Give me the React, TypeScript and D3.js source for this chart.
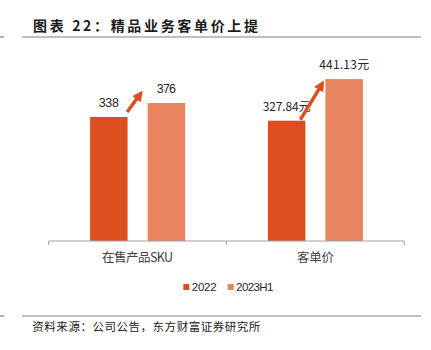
import React from "react";
import * as d3 from "d3";

const categories = ["在售产品SKU", "客单价"];
const series = ["2022", "2023H1"];
const values2022 = [338, 327.84];
const values2023H1 = [376, 441.13];
const valueLabels2022 = ["338", "327.84元"];
const valueLabels2023H1 = ["376", "441.13元"];
const colors = ["#DC4E1F", "#E8845F"];

const W = 431;
const H = 350;

export default function App() {
  const x = d3.scaleBand<string>().domain(categories).range([48.7, 404.3]).padding(0);
  const bw = x.bandwidth();
  const xs = d3
    .scaleBand<string>()
    .domain(series)
    .range([bw / 2 - 47.5, bw / 2 + 47.5])
    .paddingInner(0.348)
    .paddingOuter(0);
  const y = d3.scaleLinear().domain([0, 500]).range([241, 57.5]);
  const base = y(0);

  const data = categories.map((c, i) => ({
    cat: c,
    vals: [values2022[i], values2023H1[i]],
    labels: [valueLabels2022[i], valueLabels2023H1[i]],
  }));

  const labelWidths = [
    [20, 19],
    [48, 50],
  ];

  const arrowColor = "#DC4E1F";
  const font = "'Liberation Sans', Arial, sans-serif";
  const cjk = "'Noto Sans CJK SC', 'Noto Sans', sans-serif";

  return (
    <svg
      width={W}
      height={H}
      style={{ position: "absolute", left: 0, top: 0, background: "#fff" }}
    >
      <defs>
        <marker
          id="ah"
          viewBox="0 0 10 10"
          refX="5"
          refY="5"
          markerWidth="3"
          markerHeight="3"
          orient="auto"
        >
          <path d="M0,0 L10,5 L0,10 z" fill={arrowColor} />
        </marker>
      </defs>
      {/* Title */}
      <text
        x={33}
        y={30.5}
        fontFamily={cjk}
        fontWeight="bold"
        fontSize={14}
        fill="#1a1a1a"
        textLength={225}
        lengthAdjust="spacing"
      >
        图表 22：精品业务客单价上提
      </text>
      <line x1={0} x2={4} y1={37} y2={37} stroke="#808080" strokeWidth={1.2} />
      <line x1={22} x2={421} y1={37} y2={37} stroke="#808080" strokeWidth={1.2} />

      {/* Bars */}
      {data.map((d, i) => {
        const gx = x(d.cat)!;
        return (
          <g key={d.cat}>
            {d.vals.map((v, j) => {
              const bx = gx + xs(series[j])!;
              return (
                <g key={j}>
                  <rect
                    x={bx}
                    y={y(v)}
                    width={xs.bandwidth()}
                    height={base - y(v)}
                    fill={colors[j]}
                  />
                  <text
                    x={bx + xs.bandwidth() / 2}
                    y={y(v) - 10}
                    textAnchor="middle"
                    fontFamily={i === 0 ? font : cjk}
                    fontSize={i === 0 ? 12.5 : 12}
                    fill="#262626"
                    textLength={labelWidths[i][j]}
                    lengthAdjust="spacing"
                  >
                    {d.labels[j]}
                  </text>
                </g>
              );
            })}
            {(() => {
              const b1x = gx + xs(series[0])! + xs.bandwidth();
              const b2x = gx + xs(series[1])!;
              const x1 = i === 0 ? b1x - 0.5 : b1x - 5;
              const y1 = i === 0 ? y(d.vals[0]) - 5 : y(d.vals[0]) - 1;
              const x2 = i === 0 ? b2x - 8 : b2x - 4;
              const y2 = i === 0 ? y(d.vals[1]) - 8 : y(d.vals[1]) + 6;
              return (
                <line
                  x1={x1}
                  y1={y1}
                  x2={x2}
                  y2={y2}
                  stroke={arrowColor}
                  strokeWidth={3.5}
                  markerEnd="url(#ah)"
                />
              );
            })()}
          </g>
        );
      })}

      {/* X axis */}
      <line x1={48.7} x2={404.3} y1={241} y2={241} stroke="#A0A0A0" strokeWidth={1} />
      {[...categories.map((c) => x(c)!), 404.3].map((t, i) => (
        <line key={i} x1={t} x2={t} y1={241} y2={245} stroke="#A0A0A0" strokeWidth={1} />
      ))}
      {categories.map((c, i) => (
        <text
          key={c}
          x={x(c)! + bw / 2}
          y={262}
          textAnchor="middle"
          fontFamily={cjk}
          fontSize={12.5}
          fill="#404040"
          textLength={i === 0 ? 71 : 37}
          lengthAdjust="spacing"
        >
          {c}
        </text>
      ))}

      {/* Legend */}
      {series.map((s, j) => {
        const lx = [183.3, 227.7][j];
        return (
          <g key={s}>
            <rect x={lx} y={284} width={6} height={6} fill={colors[j]} />
            <text
              x={lx + 8.4}
              y={291.2}
              fontFamily={font}
              fontSize={11.5}
              fill="#262626"
              textLength={j === 0 ? 25 : 37.4}
              lengthAdjust="spacing"
            >
              {s}
            </text>
          </g>
        );
      })}

      {/* Source */}
      <line x1={0} x2={4} y1={316} y2={316} stroke="#808080" strokeWidth={1.2} />
      <line x1={22} x2={421} y1={316} y2={316} stroke="#808080" strokeWidth={1.2} />
      <text
        x={32.3}
        y={330.5}
        fontFamily={cjk}
        fontSize={11.5}
        fill="#1a1a1a"
        textLength={228}
        lengthAdjust="spacing"
      >
        资料来源：公司公告，东方财富证券研究所
      </text>
    </svg>
  );
}
